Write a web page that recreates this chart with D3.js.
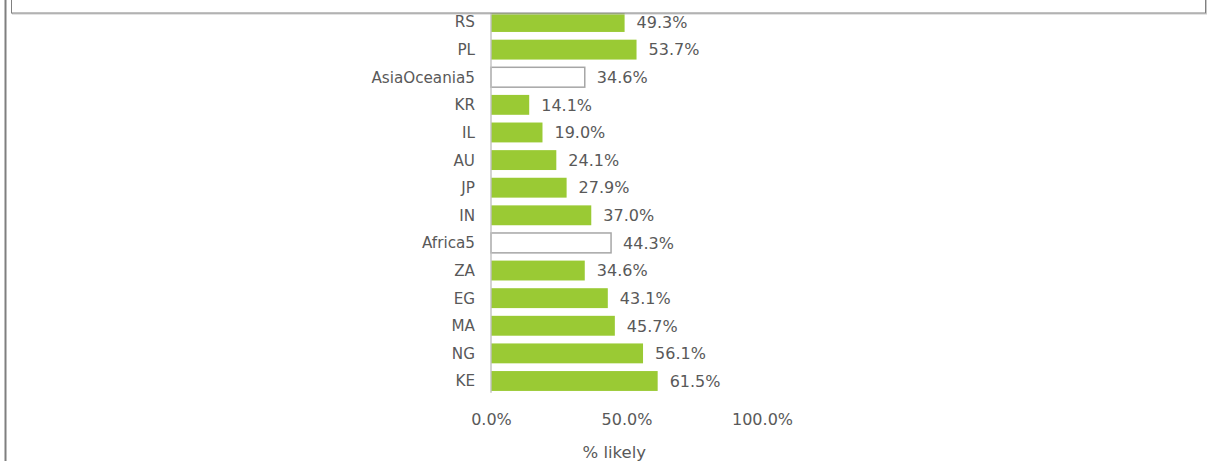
<!DOCTYPE html>
<html>
<head>
<meta charset="utf-8">
<script src="https://cdn.jsdelivr.net/npm/d3@7"></script>
<style>
  html, body { margin: 0; padding: 0; background: #fff; }
  svg { display: block; }
</style>
</head>
<body>
<div id="chart"></div>
<script>
"use strict";

/* ── Data ── */
const categories = ["RS", "PL", "AsiaOceania5", "KR", "IL", "AU", "JP", "IN",
                    "Africa5", "ZA", "EG", "MA", "NG", "KE"];
const values     = [0.493, 0.537, 0.346, 0.141, 0.190, 0.241, 0.279, 0.370,
                    0.443, 0.346, 0.431, 0.457, 0.561, 0.615];
const regionRows = ["AsiaOceania5", "Africa5"];
const xTicks     = [0, 0.5, 1];
const xTitle     = "% likely";

const W = 1208, H = 461;
const textCol = "#595959";

const svg = d3.select("#chart").append("svg")
  .attr("width", W).attr("height", H);

/* ── Scales ── */
const x = d3.scaleLinear().domain([0, 1]).range([491, 762]);
const y = d3.scaleBand().domain(categories).range([8.2, 394.8])
  .paddingInner(0.28).paddingOuter(0.14);

const rows = categories.map((c, i) => ({ cat: c, value: values[i] }));
const pct = d3.format(".1%");

/* ── Bars ── */
svg.selectAll(".bar")
  .data(rows)
  .join("rect")
  .attr("class", "bar")
  .attr("x", x(0))
  .attr("y", d => y(d.cat))
  .attr("width", d => x(d.value) - x(0))
  .attr("height", y.bandwidth())
  .attr("fill", d => regionRows.includes(d.cat) ? "#fff" : "#9aca34")
  .attr("stroke", d => regionRows.includes(d.cat) ? "#a6a6a6" : "none")
  .attr("stroke-width", 1.5);

/* ── Y axis line ── */
svg.append("line")
  .attr("x1", x(0)).attr("x2", x(0))
  .attr("y1", 0).attr("y2", y.range()[1] - 2)
  .attr("stroke", "#c0c0c0").attr("stroke-width", 1.4);

/* ── Category labels ── */
svg.selectAll(".cat")
  .data(rows)
  .join("text")
  .attr("class", "cat")
  .attr("x", x(0) - 16)
  .attr("y", d => y(d.cat) + y.bandwidth() / 2)
  .attr("dy", "0.36em")
  .attr("text-anchor", "end")
  .attr("font-family", "DejaVu Sans, Verdana, sans-serif")
  .attr("font-size", "15.2px")
  .attr("fill", textCol)
  .text(d => d.cat);

/* ── Value labels ── */
svg.selectAll(".val")
  .data(rows)
  .join("text")
  .attr("class", "val")
  .attr("x", d => x(d.value) + 12)
  .attr("y", d => y(d.cat) + y.bandwidth() / 2)
  .attr("dy", "0.36em")
  .attr("font-family", "DejaVu Sans, Verdana, sans-serif")
  .attr("font-size", "16px")
  .attr("fill", textCol)
  .text(d => pct(d.value));

/* ── X axis ticks ── */
svg.append("g")
  .attr("transform", "translate(0,419)")
  .call(d3.axisBottom(x).tickValues(xTicks).tickFormat(pct).tickSize(0).tickPadding(0))
  .call(g => {
    g.select(".domain").remove();
    g.selectAll(".tick text")
      .attr("y", 0)
      .attr("dy", "0.36em")
      .attr("fill", textCol)
      .attr("font-family", "DejaVu Sans, Verdana, sans-serif")
      .attr("font-size", "16px");
  });

// title sits a little left of the plot centre in the original
svg.append("text")
  .attr("x", x(0.455))
  .attr("y", 458)
  .attr("text-anchor", "middle")
  .attr("fill", textCol)
  .attr("font-family", "DejaVu Sans, Verdana, sans-serif")
  .attr("font-size", "16.5px")
  .text(xTitle);

/* ── Frame: outer left edge and top box ── */
svg.append("line")
  .attr("x1", 5.5).attr("x2", 5.5).attr("y1", 0).attr("y2", H)
  .attr("stroke", "#7f7f7f").attr("stroke-width", 2);

svg.append("rect")
  .attr("x", 12.5).attr("y", -10)
  .attr("width", 1194).attr("height", 24)
  .attr("fill", "none").attr("stroke", "#c8c8c8").attr("stroke-width", 1);
svg.append("rect")
  .attr("x", 11.5).attr("y", -10)
  .attr("width", 1194).attr("height", 23)
  .attr("fill", "#fff").attr("stroke", "#808080").attr("stroke-width", 1);
</script>
</body>
</html>
